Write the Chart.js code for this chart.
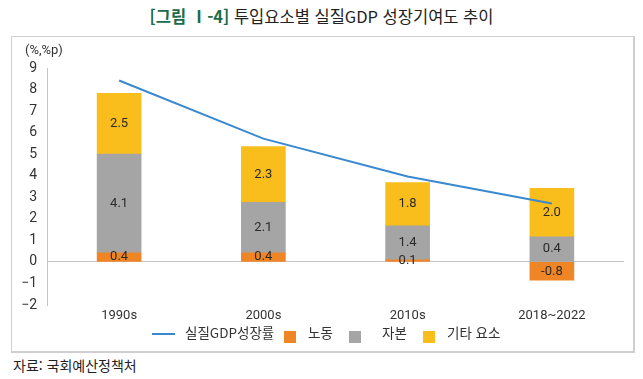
<!DOCTYPE html>
<html lang="ko">
  <head>
    <meta charset="UTF-8" />
    <title>투입요소별 실질GDP 성장기여도 추이</title>
    <script src="https://cdn.jsdelivr.net/npm/chart.js@4.4.1/dist/chart.umd.min.js"></script>
    <style>
      body {
        margin: 0;
        width: 643px;
        height: 379px;
        background: #fff;
        font-family: "Noto Sans CJK KR", Roboto, sans-serif;
        color: #333;
        position: relative;
        overflow: hidden;
      }
      #title {
        position: absolute;
        left: 0;
        width: 643px;
        top: 8px;
        line-height: 1;
        text-align: center;
        font-size: 16.5px;
        color: #222;
      }
      #title b {
        color: #1b6b4a;
      }
      .frame {
        position: absolute;
        left: 11px;
        top: 36px;
        width: 621px;
        height: 314px;
        border: 1px solid #cfcfcf;
        border-right-width: 2px;
        border-bottom-width: 2px;
      }
      .chart-box {
        position: absolute;
        left: 11px;
        top: 37px;
        width: 623px;
        height: 315px;
      }
      #unit {
        position: absolute;
        left: 25px;
        top: 43px;
        line-height: 1;
        font-size: 13px;
        font-family: Roboto, sans-serif;
      }
      .lg {
        position: absolute;
        font-size: 13.5px;
        line-height: 1;
        top: 326px;
        color: #333;
      }
      .sw {
        position: absolute;
        top: 331px;
        width: 12px;
        height: 12px;
      }
      #source {
        position: absolute;
        left: 13px;
        top: 358px;
        line-height: 1;
        font-size: 14px;
        color: #222;
      }
    </style>
  </head>
  <body>
    <div id="title"><b>[그림 Ⅰ-4]</b> 투입요소별 실질GDP 성장기여도 추이</div>
    <div class="frame"></div>
    <div class="chart-box"><canvas id="chart"></canvas></div>
    <div id="unit">(%,%p)</div>

    <div class="lg" style="left: 152px; top: 333px; width: 23px; height: 2px; background: #3a88d0"></div>
    <div class="lg" style="left: 185px">실질GDP성장률</div>
    <div class="sw" style="left: 284px; background: #f08526"></div>
    <div class="lg" style="left: 308px">노동</div>
    <div class="sw" style="left: 349px; background: #a5a5a5"></div>
    <div class="lg" style="left: 382px">자본</div>
    <div class="sw" style="left: 423px; background: #f9be1c"></div>
    <div class="lg" style="left: 447px">기타 요소</div>

    <div id="source">자료: 국회예산정책처</div>

    <script>
      // categories
      const periods = ["1990s", "2000s", "2010s", "2018~2022"];

      // bar heights as drawn in the picture
      const labour = [0.42, 0.42, 0.1, -0.85];
      const capital = [4.58, 2.35, 1.58, 1.16];
      const others = [2.82, 2.58, 2.0, 2.25];

      // printed values on the bars
      const labourText = ["0.4", "0.4", "0.1", "-0.8"];
      const capitalText = ["4.1", "2.1", "1.4", "0.4"];
      const othersText = ["2.5", "2.3", "1.8", "2.0"];

      // real GDP growth line
      const gdpGrowth = [8.42, 5.72, 3.96, 2.71];

      const yTicks = [-2, -1, 0, 1, 2, 3, 4, 5, 6, 7, 8, 9];

      const textByDataset = [null, labourText, capitalText, othersText];

      // write the printed values in the middle of each bar segment
      const barText = {
        id: "barText",
        afterDatasetsDraw(chart) {
          const ctx = chart.ctx;
          ctx.save();
          ctx.font = "13px Roboto, sans-serif";
          ctx.fillStyle = "#2a2a2a";
          ctx.textAlign = "center";
          ctx.textBaseline = "middle";
          chart.data.datasets.forEach((ds, i) => {
            const texts = textByDataset[i];
            if (!texts) return;
            chart.getDatasetMeta(i).data.forEach((bar, j) => {
              const p = bar.getCenterPoint();
              ctx.fillText(texts[j], p.x, p.y);
            });
          });
          ctx.restore();
        },
      };

      new Chart(document.getElementById("chart"), {
        type: "bar",
        data: {
          labels: periods,
          datasets: [
            {
              type: "line",
              label: "실질GDP성장률",
              data: gdpGrowth,
              borderColor: "#3a88d0",
              borderWidth: 2,
              pointRadius: 0,
              tension: 0,
              order: 0,
            },
            {
              label: "노동",
              data: labour,
              backgroundColor: "#f08526",
              stack: "s",
              order: 1,
            },
            {
              label: "자본",
              data: capital,
              backgroundColor: "#a5a5a5",
              stack: "s",
              order: 1,
            },
            {
              label: "기타 요소",
              data: others,
              backgroundColor: "#f9be1c",
              stack: "s",
              order: 1,
            },
          ],
        },
        options: {
          responsive: true,
          maintainAspectRatio: false,
          animation: false,
          layout: { padding: { top: 31, right: 10, left: 0, bottom: 0 } },
          datasets: {
            bar: { barThickness: 44 },
          },
          plugins: {
            legend: { display: false },
            tooltip: { enabled: false },
          },
          scales: {
            x: {
              stacked: true,
              grid: { display: false, drawTicks: false },
              border: { display: false },
              ticks: {
                padding: 3,
                color: "#333",
                font: { family: "Roboto, sans-serif", size: 13 },
              },
              afterFit(scale) {
                scale.height = 47;
              },
            },
            y: {
              stacked: true,
              min: -2,
              max: 9,
              afterBuildTicks(scale) {
                scale.ticks = yTicks.map((v) => ({ value: v }));
              },
              grid: {
                drawTicks: false,
                color: (c) => (c.tick && c.tick.value === 0 ? "#c4c4c4" : "rgba(0,0,0,0)"),
              },
              border: { display: true, color: "#c4c4c4" },
              ticks: {
                padding: 10,
                color: "#333",
                font: { family: "Roboto, sans-serif", size: 14 },
                callback: (v) => (v < 0 ? "\u2212" + Math.abs(v) : v),
              },
              afterFit(scale) {
                scale.width = 36;
              },
            },
          },
        },
        plugins: [barText],
      });
    </script>
  </body>
</html>
